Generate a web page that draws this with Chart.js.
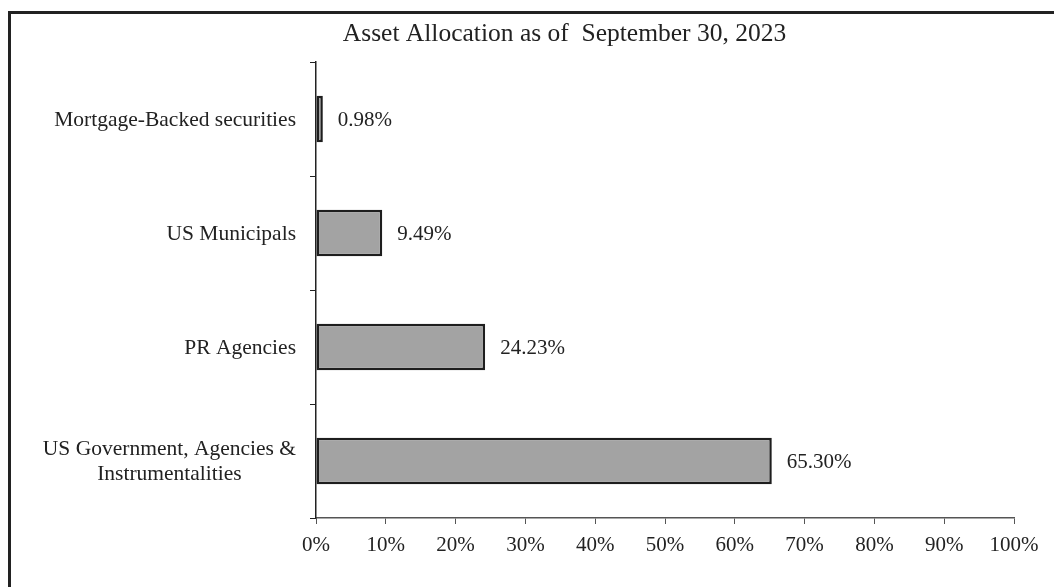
<!DOCTYPE html>
<html>
<head>
<meta charset="utf-8">
<script src="https://cdn.jsdelivr.net/npm/chart.js@4.4.0/dist/chart.umd.min.js"></script>
<style>
  html, body { margin: 0; padding: 0; background: #fff; }
  .wrap { position: relative; width: 1054px; height: 587px; overflow: hidden; }
  .frame {
    position: absolute; left: 8px; top: 11px; width: 1100px; height: 640px;
    border-left: 3px solid #222; border-top: 3px solid #222;
    box-sizing: border-box;
  }
  canvas { position: absolute; left: 0; top: 0; }
</style>
</head>
<body>
<div class="wrap">
  <div class="frame"></div>
  <canvas id="chart" width="1054" height="587"></canvas>
</div>
<script>
const titleText = "Asset Allocation as of  September 30, 2023";
const categories = [
  ["Mortgage-Backed securities"],
  ["US Municipals"],
  ["PR Agencies"],
  ["US Government, Agencies &", "Instrumentalities"]
];
const values = [0.98, 9.49, 24.23, 65.30];
const xTicks = [0, 10, 20, 30, 40, 50, 60, 70, 80, 90, 100];

const fontFamily = "'Liberation Serif', 'Times New Roman', serif";
const fontSize = 21;

// title, y labels and value labels drawn by hand
const textPlugin = {
  id: "textPlugin",
  afterDraw(chart) {
    const ctx = chart.ctx;
    const xScale = chart.scales.x;
    const yScale = chart.scales.y;
    ctx.save();
    ctx.fillStyle = "#222";
    ctx.textBaseline = "middle";

    // title
    ctx.font = "25.5px " + fontFamily;
    ctx.textAlign = "center";
    ctx.fillText(titleText, 564.5, 34);

    // category labels, right edge at 296, extra lines centred under the first
    ctx.font = "21.5px " + fontFamily;
    categories.forEach((lines, i) => {
      const yc = yScale.getPixelForValue(i);
      const maxW = Math.max(...lines.map(l => ctx.measureText(l).width));
      const cx = 296 - maxW / 2;
      const lh = 25;
      const y0 = yc - (lines.length - 1) * lh / 2 + 1;
      ctx.textAlign = "center";
      lines.forEach((l, j) => ctx.fillText(l, cx, y0 + j * lh));
    });

    // value labels
    ctx.font = fontSize + "px " + fontFamily;
    ctx.textAlign = "left";
    values.forEach((v, i) => {
      const x = xScale.getPixelForValue(v) + 15;
      const y = yScale.getPixelForValue(i);
      ctx.fillText(v.toFixed(2) + "%", x, y + 1);
    });
    ctx.restore();
  }
};

new Chart(document.getElementById("chart"), {
  type: "bar",
  data: {
    labels: categories.map(c => c.join(" ")),
    datasets: [{
      data: values,
      backgroundColor: "#a3a3a3",
      borderColor: "#1e1e1e",
      borderWidth: 2.5,
      borderSkipped: false,
      categoryPercentage: 0.41,
      barPercentage: 1
    }]
  },
  options: {
    indexAxis: "y",
    responsive: false,
    animation: false,
    events: [],
    layout: { padding: { top: 62, right: 40, left: 0, bottom: 0 } },
    plugins: {
      legend: { display: false },
      title: { display: false },
      tooltip: { enabled: false }
    },
    scales: {
      x: {
        min: 0,
        max: 100,
        afterBuildTicks: (scale) => { scale.ticks = xTicks.map(v => ({ value: v })); },
        afterFit: (scale) => { scale.height = 69; },
        ticks: {
          color: "#222",
          font: { family: fontFamily, size: fontSize },
          padding: 9,
          maxRotation: 0,
          callback: (v) => v + "%"
        },
        grid: {
          drawOnChartArea: false,
          drawTicks: true,
          tickLength: 6,
          color: "#555"
        },
        border: { color: "#555", width: 1.5 }
      },
      y: {
        afterFit: (scale) => { scale.width = 316; },
        ticks: { display: false },
        grid: {
          drawOnChartArea: false,
          drawTicks: true,
          tickLength: 6,
          color: "#222",
          offset: true
        },
        border: { color: "#222", width: 1.5 }
      }
    }
  },
  plugins: [textPlugin]
});
</script>
</body>
</html>
